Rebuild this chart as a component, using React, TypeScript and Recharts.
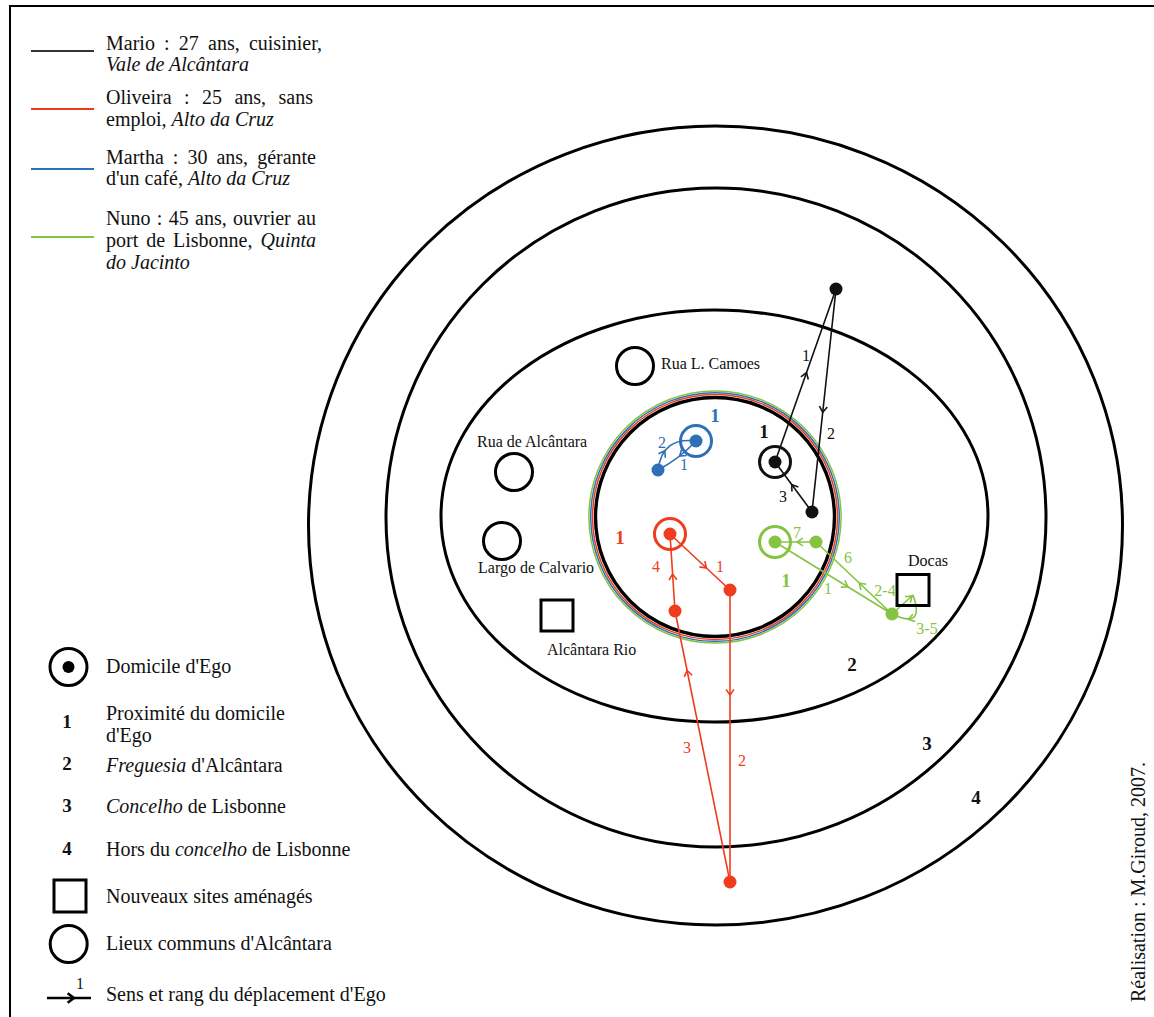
import React from "react";
import { ComposedChart, XAxis, YAxis, Scatter, ReferenceArea, ReferenceLine } from "recharts";

const W = 1154;
const H = 1017;
const SERIF = "'Liberation Serif', 'Times New Roman', serif";

// concentric zones (map units): 1 proximité, 2 freguesia, 3 concelho, 4 hors concelho
const zoneIds = ["1", "2", "3", "4"];
const zoneCx = [715, 714.5, 716, 715.5];
const zoneCy = [517, 516, 517.5, 525.5];
const zoneRx = [119.5, 273.5, 330, 407];
const zoneRy = [119.5, 206, 329.5, 399.5];

const persons = ["Mario", "Oliveira", "Martha", "Nuno"];

const homes = [
  { person: "Mario", x: 775, y: 462 },
  { person: "Oliveira", x: 670, y: 534 },
  { person: "Martha", x: 696, y: 441 },
  { person: "Nuno", x: 775, y: 542 },
];

const stops = [
  { person: "Mario", x: 836, y: 289 },
  { person: "Mario", x: 812, y: 512 },
  { person: "Oliveira", x: 730, y: 590 },
  { person: "Oliveira", x: 675, y: 611 },
  { person: "Oliveira", x: 730, y: 882 },
  { person: "Martha", x: 658, y: 470 },
  { person: "Nuno", x: 816, y: 542 },
  { person: "Nuno", x: 892, y: 614 },
];

const lieuxCommuns = [
  { name: "Rua L. Camoes", x: 635, y: 366 },
  { name: "Rua de Alcântara", x: 514, y: 472 },
  { name: "Largo de Calvario", x: 502, y: 541 },
];

const nouveauxSites = [
  { name: "Alcântara Rio", x: 557, y: 615.5 },
  { name: "Docas", x: 913, y: 590 },
];

const placeNames = [
  { text: "Rua L. Camoes", x: 661, y: 369 },
  { text: "Rua de Alcântara", x: 477, y: 447 },
  { text: "Largo de Calvario", x: 478, y: 573 },
  { text: "Alcântara Rio", x: 547, y: 655 },
  { text: "Docas", x: 908, y: 566 },
];

const trips = [
  { person: "Mario", rank: "1", from: [775, 462], to: [836, 289] },
  { person: "Mario", rank: "2", from: [836, 289], to: [812, 512] },
  { person: "Mario", rank: "3", from: [812, 512], to: [775, 462] },
  { person: "Oliveira", rank: "1", from: [670, 534], to: [730, 590] },
  { person: "Oliveira", rank: "2", from: [730, 590], to: [730, 882] },
  { person: "Oliveira", rank: "3", from: [730, 882], to: [675, 611] },
  { person: "Oliveira", rank: "4", from: [675, 611], to: [670, 534] },
  { person: "Martha", rank: "1", from: [696, 441], to: [658, 470] },
  { person: "Martha", rank: "2", from: [658, 470], to: [696, 441] },
  { person: "Nuno", rank: "1", from: [775, 542], to: [892, 614] },
  { person: "Nuno", rank: "2-4", from: [892, 614], to: [913, 595] },
  { person: "Nuno", rank: "3-5", from: [913, 595], to: [892, 614] },
  { person: "Nuno", rank: "6", from: [892, 614], to: [816, 542] },
  { person: "Nuno", rank: "7", from: [816, 542], to: [775, 542] },
];
// curvature (px) and arrow position along each trip, same order as trips
const tripBend = [0, 0, 0, 0, 0, 0, 0, -2, -12, 0, 0, -17, 0, 0];
const tripArrowAt = [0.5, 0.54, 0.5, 0.57, 0.35, 0.77, 0.44, 0.4, 0.3, 0.6, 0.85, 0.6, 0.4, 0.39];

const rankLabels = [
  { person: "Mario", text: "1", x: 806, y: 355 },
  { person: "Mario", text: "2", x: 831, y: 433 },
  { person: "Mario", text: "3", x: 783, y: 496 },
  { person: "Oliveira", text: "1", x: 720, y: 566 },
  { person: "Oliveira", text: "2", x: 742, y: 760 },
  { person: "Oliveira", text: "3", x: 687, y: 747 },
  { person: "Oliveira", text: "4", x: 656, y: 566 },
  { person: "Martha", text: "2", x: 662, y: 442 },
  { person: "Martha", text: "1", x: 684, y: 464 },
  { person: "Nuno", text: "1", x: 828, y: 588 },
  { person: "Nuno", text: "2-4", x: 885, y: 590 },
  { person: "Nuno", text: "3-5", x: 927, y: 628 },
  { person: "Nuno", text: "6", x: 848, y: 557 },
  { person: "Nuno", text: "7", x: 797, y: 532 },
];

const proximityLabels = [
  { person: "Mario", x: 764, y: 431 },
  { person: "Oliveira", x: 620, y: 537.5 },
  { person: "Martha", x: 715, y: 415 },
  { person: "Nuno", x: 786, y: 580 },
];

const zoneLabels = [
  { zone: "2", x: 852, y: 664 },
  { zone: "3", x: 927, y: 743 },
  { zone: "4", x: 976, y: 797 },
];

const personColor: Record<string, string> = {
  Mario: "#111111",
  Oliveira: "#ef3c1e",
  Martha: "#2f6fb6",
  Nuno: "#85c442",
};

function chevron(px: number, py: number, ux: number, uy: number, arm: number, ang: number) {
  const tx = px + ux * 3;
  const ty = py + uy * 3;
  const bx = -ux;
  const by = -uy;
  const c = Math.cos(ang);
  const s = Math.sin(ang);
  const e1x = tx + (bx * c - by * s) * arm;
  const e1y = ty + (bx * s + by * c) * arm;
  const e2x = tx + (bx * c + by * s) * arm;
  const e2y = ty + (-bx * s + by * c) * arm;
  return `M${e1x},${e1y}L${tx},${ty}L${e2x},${e2y}`;
}

function tripShape(color: string, bend: number, at: number) {
  return (p: any) => {
    const { x1, y1, x2, y2 } = p;
    const dx = x2 - x1;
    const dy = y2 - y1;
    const len = Math.hypot(dx, dy) || 1;
    const nx = -dy / len;
    const ny = dx / len;
    const k = (bend * 4) / 3;
    const c1x = x1 + dx / 3 + nx * k;
    const c1y = y1 + dy / 3 + ny * k;
    const c2x = x1 + (2 * dx) / 3 + nx * k;
    const c2y = y1 + (2 * dy) / 3 + ny * k;
    const t = at;
    const m = 1 - t;
    const px = m * m * m * x1 + 3 * m * m * t * c1x + 3 * m * t * t * c2x + t * t * t * x2;
    const py = m * m * m * y1 + 3 * m * m * t * c1y + 3 * m * t * t * c2y + t * t * t * y2;
    let tx = 3 * m * m * (c1x - x1) + 6 * m * t * (c2x - c1x) + 3 * t * t * (x2 - c2x);
    let ty = 3 * m * m * (c1y - y1) + 6 * m * t * (c2y - c1y) + 3 * t * t * (y2 - c2y);
    const tl = Math.hypot(tx, ty) || 1;
    tx /= tl;
    ty /= tl;
    return (
      <g>
        <path
          d={`M${x1},${y1}C${c1x},${c1y} ${c2x},${c2y} ${x2},${y2}`}
          fill="none"
          stroke={color}
          strokeWidth={1.6}
        />
        <path d={chevron(px, py, tx, ty, 7, 0.6)} fill="none" stroke={color} strokeWidth={1.6} />
      </g>
    );
  };
}

function ellipseShape(rings: { off: number; color: string; w: number }[]) {
  return (p: any) => {
    const cx = p.x + p.width / 2;
    const cy = p.y + Math.abs(p.height) / 2;
    const rx = Math.abs(p.width) / 2;
    const ry = Math.abs(p.height) / 2;
    return (
      <g>
        {rings.map((r, i) => (
          <ellipse key={i} cx={cx} cy={cy} rx={rx + r.off} ry={ry + r.off} fill="none" stroke={r.color} strokeWidth={r.w} />
        ))}
      </g>
    );
  };
}

const proximityRings = [
  { off: 0, color: "#000", w: 3.4 },
  { off: 3.0, color: personColor.Oliveira, w: 1.5 },
  { off: 4.8, color: personColor.Martha, w: 1.5 },
  { off: 6.6, color: personColor.Nuno, w: 1.5 },
];

const HomeShape = (p: any) => {
  const c = personColor[p.payload.person];
  return (
    <g>
      <circle cx={p.cx} cy={p.cy} r={15.5} fill="none" stroke={c} strokeWidth={3} />
      <circle cx={p.cx} cy={p.cy} r={6.5} fill={c} />
    </g>
  );
};

const StopShape = (p: any) => <circle cx={p.cx} cy={p.cy} r={6.5} fill={personColor[p.payload.person]} />;

const LieuShape = (p: any) => <circle cx={p.cx} cy={p.cy} r={18.5} fill="none" stroke="#000" strokeWidth={3} />;

const SiteShape = (p: any) => (
  <rect x={p.cx - 16} y={p.cy - 15.5} width={32} height={31} fill="none" stroke="#000" strokeWidth={3} />
);

const PlaceNameShape = (p: any) => (
  <text x={p.cx} y={p.cy} fontFamily={SERIF} fontSize={16} fill="#111">
    {p.payload.text}
  </text>
);

const RankShape = (p: any) => (
  <text x={p.cx} y={p.cy} dy="0.35em" textAnchor="middle" fontFamily={SERIF} fontSize={16} fill={personColor[p.payload.person]}>
    {p.payload.text}
  </text>
);

const ProximityShape = (p: any) => (
  <text x={p.cx} y={p.cy} dy="0.35em" textAnchor="middle" fontFamily={SERIF} fontSize={19} fontWeight="bold" fill={personColor[p.payload.person]}>
    1
  </text>
);

const ZoneLabelShape = (p: any) => (
  <text x={p.cx} y={p.cy} dy="0.35em" textAnchor="middle" fontFamily={SERIF} fontSize={19} fontWeight="bold" fill="#111">
    {p.payload.zone}
  </text>
);

function PersonLegend() {
  const line = (top: number, width: number, justify: boolean, content: React.ReactNode) => (
    <div
      style={{
        position: "absolute",
        left: 106,
        top: top - 17,
        width,
        lineHeight: "20px",
        fontSize: 20,
        fontFamily: SERIF,
        color: "#111",
        textAlign: justify ? "justify" : "left",
        textAlignLast: justify ? "justify" : "left",
      } as React.CSSProperties}
    >
      {content}
    </div>
  );
  return (
    <>
      {line(50, 216, true, "Mario : 27 ans, cuisinier,")}
      {line(71, 216, false, <i>Vale de Alcântara</i>)}
      {line(104, 207, true, "Oliveira : 25 ans, sans")}
      {line(126, 216, false, <>emploi, <i>Alto da Cruz</i></>)}
      {line(164, 210, true, "Martha : 30 ans, gérante")}
      {line(185, 216, false, <>d'un café, <i>Alto da Cruz</i></>)}
      {line(225, 210, true, "Nuno : 45 ans, ouvrier au")}
      {line(247, 210, true, <>port de Lisbonne, <i>Quinta</i></>)}
      {line(269, 216, false, <i>do Jacinto</i>)}
    </>
  );
}

function SymbolLegend() {
  const t = { fontFamily: SERIF, fontSize: 20, fill: "#111" };
  const n = { fontFamily: SERIF, fontSize: 19, fontWeight: "bold" as const, fill: "#111", textAnchor: "middle" as const };
  return (
    <svg width={W} height={H} style={{ position: "absolute", left: 0, top: 0, pointerEvents: "none" }}>
      {persons.map((p, i) => (
        <line key={p} x1={31} x2={94} y1={[51, 109, 169, 237][i]} y2={[51, 109, 169, 237][i]} stroke={p === "Mario" ? "#333" : personColor[p]} strokeWidth={2} />
      ))}
      <circle cx={68.5} cy={667} r={18.5} fill="none" stroke="#000" strokeWidth={3} />
      <circle cx={68.5} cy={667} r={6} fill="#000" />
      <text x={106} y={673} {...t}>Domicile d'Ego</text>
      <text x={67} y={721} dy="0.35em" {...n}>1</text>
      <text x={106} y={720} {...t}>Proximité du domicile</text>
      <text x={106} y={742} {...t}>d'Ego</text>
      <text x={67} y={763.5} dy="0.35em" {...n}>2</text>
      <text x={106} y={772} {...t}><tspan fontStyle="italic">Freguesia</tspan> d'Alcântara</text>
      <text x={67} y={805.5} dy="0.35em" {...n}>3</text>
      <text x={106} y={813} {...t}><tspan fontStyle="italic">Concelho</tspan> de Lisbonne</text>
      <text x={67} y={848.5} dy="0.35em" {...n}>4</text>
      <text x={106} y={856} {...t}>Hors du <tspan fontStyle="italic">concelho</tspan> de Lisbonne</text>
      <rect x={54} y={880} width={32} height={32} fill="none" stroke="#000" strokeWidth={3} />
      <text x={106} y={903} {...t}>Nouveaux sites aménagés</text>
      <circle cx={68.7} cy={944} r={18.5} fill="none" stroke="#000" strokeWidth={3} />
      <text x={106} y={950} {...t}>Lieux communs d'Alcântara</text>
      <line x1={47} x2={91} y1={998} y2={998} stroke="#000" strokeWidth={2.5} />
      <path d={chevron(71, 998, 1, 0, 8, 0.65)} fill="none" stroke="#000" strokeWidth={2.5} />
      <text x={80} y={989} textAnchor="middle" fontFamily={SERIF} fontSize={16} fill="#111">1</text>
      <text x={106} y={1001} {...t}>Sens et rang du déplacement d'Ego</text>
      <text x={1145} y={882} textAnchor="middle" transform="rotate(-90 1145 882)" {...t}>
        Réalisation : M.Giroud, 2007.
      </text>
    </svg>
  );
}

export default function App() {
  return (
    <div style={{ position: "absolute", left: 0, top: 0, width: W, height: H, overflow: "hidden", background: "#fff" }}>
      <div style={{ position: "absolute", left: 9, top: 5, width: 1300, height: 1200, borderLeft: "2px solid #000", borderTop: "2px solid #000" }} />
      <div style={{ position: "absolute", left: 0, top: 0 }}>
        <ComposedChart width={W} height={H} margin={{ top: 0, right: 0, bottom: 0, left: 0 }}>
          <XAxis type="number" dataKey="x" domain={[0, W]} allowDataOverflow hide />
          <YAxis type="number" dataKey="y" domain={[0, H]} allowDataOverflow reversed hide />
          {zoneIds.map((z, i) => (
            <ReferenceArea
              key={`zone-${z}`}
              x1={zoneCx[i] - zoneRx[i]}
              x2={zoneCx[i] + zoneRx[i]}
              y1={zoneCy[i] - zoneRy[i]}
              y2={zoneCy[i] + zoneRy[i]}
              ifOverflow="visible"
              shape={ellipseShape(z === "1" ? proximityRings : [{ off: 0, color: "#000", w: 3 }])}
            />
          ))}
          {trips.map((tr, i) => (
            <ReferenceLine
              key={`trip-${i}`}
              segment={[
                { x: tr.from[0], y: tr.from[1] },
                { x: tr.to[0], y: tr.to[1] },
              ]}
              ifOverflow="visible"
              shape={tripShape(personColor[tr.person], tripBend[i], tripArrowAt[i])}
            />
          ))}
          <Scatter data={lieuxCommuns} shape={LieuShape} isAnimationActive={false} />
          <Scatter data={nouveauxSites} shape={SiteShape} isAnimationActive={false} />
          <Scatter data={homes} shape={HomeShape} isAnimationActive={false} />
          <Scatter data={stops} shape={StopShape} isAnimationActive={false} />
          <Scatter data={placeNames} shape={PlaceNameShape} isAnimationActive={false} />
          <Scatter data={rankLabels} shape={RankShape} isAnimationActive={false} />
          <Scatter data={proximityLabels} shape={ProximityShape} isAnimationActive={false} />
          <Scatter data={zoneLabels} shape={ZoneLabelShape} isAnimationActive={false} />
        </ComposedChart>
      </div>
      <PersonLegend />
      <SymbolLegend />
    </div>
  );
}
